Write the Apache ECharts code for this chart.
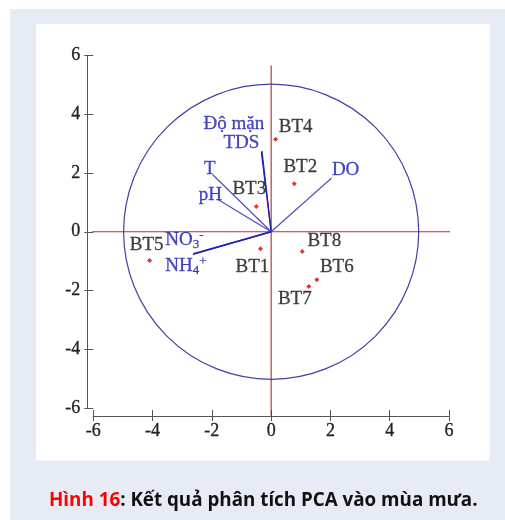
<!DOCTYPE html>
<html>
<head>
<meta charset="utf-8">
<script src="https://cdn.jsdelivr.net/npm/echarts@6/dist/echarts.min.js"></script>
<style>
  html, body { margin: 0; padding: 0; background: #ffffff; }
  #chart { width: 505px; height: 520px; }
</style>
</head>
<body>
<div id="chart"></div>
<script>
// PCA biplot, rainy season: sampling sites (scores) and variable loadings
const siteNames = ['BT1', 'BT2', 'BT3', 'BT4', 'BT5', 'BT6', 'BT7', 'BT8'];
const siteX = [-0.36, 0.78, -0.50, 0.15, -4.10, 1.54, 1.27, 1.05];
const siteY = [-0.58, 1.63, 0.86, 3.15, -0.98, -1.63, -1.86, -0.67];

const varNames = ['Độ mặn', 'TDS', 'T', 'pH', 'DO', 'NO3-', 'NH4+'];
const varX = [-0.31, -0.33, -1.97, -1.78, 2.04, -2.62, -2.64];
const varY = [2.75, 2.71, 1.94, 1.09, 1.83, -0.75, -0.77];

// reference cross through the origin and the scaled correlation circle
const crossH = [-6.15, 6.12];
const crossV = [5.66, -6.27];
const circleRadius = 5;

const axisMin = -6, axisMax = 6, axisStep = 2;

const serif = 'Liberation Serif';
const labelBlue = '#1818b4';

// label placement around each marker (pixels)
const siteLabelOffset = {
  BT1: [-8, 18], BT2: [6, -17], BT3: [-7, -17], BT4: [20, -12],
  BT5: [-3, -16], BT6: [20, -13], BT7: [-14, 13], BT8: [22, -10]
};
const varLabelOffset = {
  'Độ mặn': [-28, -27], 'TDS': [-20, -9], 'T': [-3, -6], 'pH': [-8, -5],
  'DO': [14, -8], 'NO3-': [-9, -14], 'NH4+': [-7, 12]
};
const varLabelRich = {
  'NO3-': '{t|NO}{sub|3}{sup|-}',
  'NH4+': '{t|NH}{sub|4}{sup|+}'
};
// vectors drawn with a heavier stroke (pairs lying on top of each other)
const vectorStyle = {
  'Độ mặn': { color: '#2424a4', width: 1.3 },
  'TDS': { color: '#2424a4', width: 1.3 },
  'NO3-': { color: '#2424ac', width: 1.4 },
  'NH4+': { color: '#2424ac', width: 1.4 },
  'T': { color: '#4e4ec2', width: 1.2 },
  'pH': { color: '#4e4ec2', width: 1.2 },
  'DO': { color: '#4e4ec2', width: 1.2 }
};

const chart = echarts.init(document.getElementById('chart'), null, { renderer: 'canvas' });

const gridBox = { left: 93.3, right: 56, top: 55.5, bottom: 112 };

const tickText = {
  color: '#222222', fontFamily: serif, fontSize: 18,
  textBorderColor: '#222222', textBorderWidth: 0.3
};

function makeXAxis(gridIndex, inside, showLabel) {
  return {
    type: 'value', gridIndex, min: axisMin, max: axisMax, interval: axisStep,
    position: 'bottom', offset: 8,
    axisLine: { show: true, onZero: false, lineStyle: { color: '#555555', width: 1 } },
    axisTick: { show: true, inside, length: inside ? 6 : 5, lineStyle: { color: '#555555', width: 1 } },
    axisLabel: Object.assign({ show: showLabel, margin: 6 }, tickText),
    splitLine: { show: false }
  };
}
function makeYAxis(gridIndex, inside, showLabel) {
  return {
    type: 'value', gridIndex, min: axisMin, max: axisMax, interval: axisStep,
    position: 'left', offset: 6,
    axisLine: { show: true, onZero: false, lineStyle: { color: '#555555', width: 1 } },
    axisTick: { show: true, inside, length: inside ? 6 : 3, lineStyle: { color: '#555555', width: 1 } },
    axisLabel: Object.assign({ show: showLabel, margin: 7 }, tickText),
    splitLine: { show: false }
  };
}

function blueText(size) {
  return {
    color: labelBlue, fontFamily: serif, fontSize: size,
    textBorderColor: labelBlue, textBorderWidth: 0.3
  };
}

const option = {
  backgroundColor: '#ffffff',
  animation: false,
  graphic: [
    { type: 'rect', z: -20, silent: true, shape: { x: 10, y: 9, width: 495, height: 511 }, style: { fill: '#e6ebf6' } },
    { type: 'rect', z: -19, silent: true, shape: { x: 36, y: 24, width: 453.5, height: 436.5 }, style: { fill: '#ffffff' } }
  ],
  title: {
    text: '{r|Hình 16}{k|: Kết quả phân tích PCA vào mùa mưa.}',
    left: 44, top: 486,
    textStyle: {
      rich: {
        r: { color: '#ff0000', fontFamily: 'Open Sans', fontWeight: 'bold', fontSize: 18.8 },
        k: { color: '#111111', fontFamily: 'Open Sans', fontWeight: 'bold', fontSize: 18.8 }
      }
    }
  },
  grid: [
    Object.assign({}, gridBox),
    Object.assign({}, gridBox)
  ],
  xAxis: [makeXAxis(0, false, true), makeXAxis(1, true, false)],
  yAxis: [makeYAxis(0, false, true), makeYAxis(1, true, false)],
  series: [
    {
      // horizontal reference line y = 0
      type: 'line', xAxisIndex: 0, yAxisIndex: 0, clip: false, symbol: 'none', silent: true,
      lineStyle: { color: '#d02626', width: 1 },
      data: crossH.map(x => [x, 0]), z: 1
    },
    {
      // vertical reference line x = 0
      type: 'line', xAxisIndex: 0, yAxisIndex: 0, clip: false, symbol: 'none', silent: true,
      lineStyle: { color: '#a31717', width: 1 },
      data: crossV.map(y => [0, y]), z: 1
    },
    {
      // correlation circle
      type: 'custom', xAxisIndex: 0, yAxisIndex: 0, silent: true, z: 2,
      data: [[0, 0]],
      renderItem: function (params, api) {
        const c = api.coord([api.value(0), api.value(1)]);
        const s = api.size([circleRadius, circleRadius]);
        return {
          type: 'circle',
          shape: { cx: c[0], cy: c[1], r: (s[0] + s[1]) / 2 },
          style: { fill: 'none', stroke: '#4040a8', lineWidth: 1.2 }
        };
      }
    },
    {
      // loading vectors from the origin
      type: 'lines', coordinateSystem: 'cartesian2d', xAxisIndex: 0, yAxisIndex: 0,
      silent: true, z: 3,
      data: varNames.map((n, i) => ({
        coords: [[0, 0], [varX[i], varY[i]]],
        lineStyle: { color: vectorStyle[n].color, width: vectorStyle[n].width, opacity: 1 }
      }))
    },
    {
      // loading labels
      type: 'scatter', xAxisIndex: 0, yAxisIndex: 0, symbolSize: 0, silent: true, z: 4,
      data: varNames.map((n, i) => ({
        value: [varX[i], varY[i]],
        name: n,
        label: { offset: varLabelOffset[n] }
      })),
      label: Object.assign({
        show: true, position: 'inside', align: 'center', verticalAlign: 'middle',
        formatter: p => varLabelRich[p.name] || ('{t|' + p.name + '}'),
        rich: {
          t: Object.assign(blueText(19), { lineHeight: 22, verticalAlign: 'middle' }),
          sub: Object.assign(blueText(13), { lineHeight: 22, verticalAlign: 'bottom' }),
          sup: Object.assign(blueText(13), { lineHeight: 22, verticalAlign: 'top' })
        }
      }, blueText(19))
    },
    {
      // sampling sites
      type: 'scatter', xAxisIndex: 0, yAxisIndex: 0, symbol: 'diamond', symbolSize: 5,
      silent: true, z: 5,
      itemStyle: { color: '#e00000' },
      data: siteNames.map((n, i) => ({
        value: [siteX[i], siteY[i]],
        name: n,
        label: { offset: siteLabelOffset[n] }
      })),
      label: {
        show: true, position: 'inside', align: 'center', verticalAlign: 'middle',
        color: '#111111', fontFamily: serif, fontSize: 19,
        textBorderColor: '#111111', textBorderWidth: 0.3,
        formatter: p => p.name
      }
    }
  ]
};

chart.setOption(option);
</script>
</body>
</html>
